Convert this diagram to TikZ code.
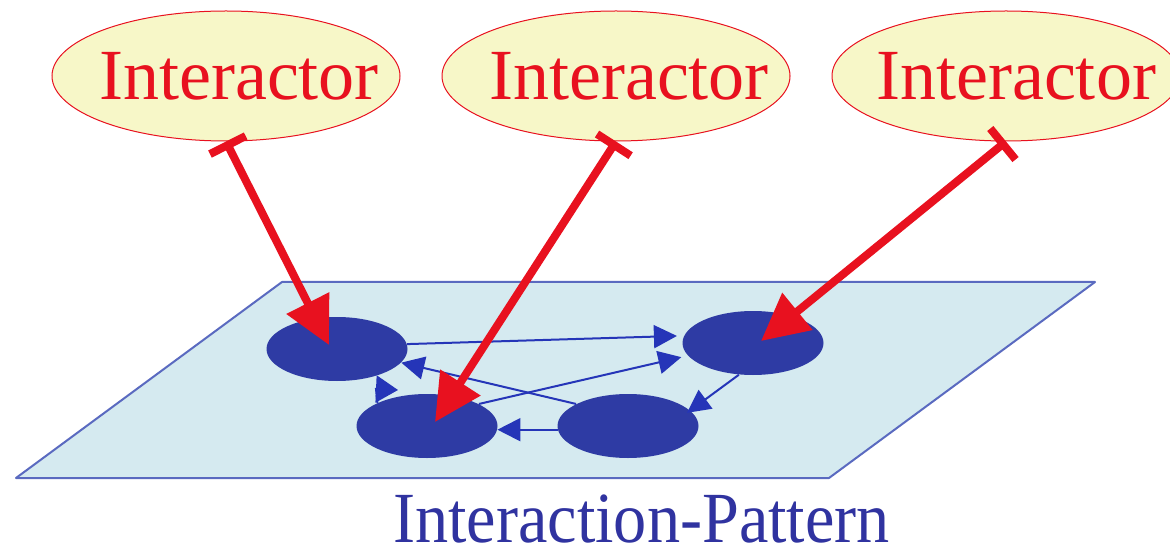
\documentclass[tikz,border=0pt]{standalone}
\usepackage{fontspec}
\setmainfont{Liberation Serif}
\usetikzlibrary{arrows.meta,shapes.geometric}

\definecolor{actorfill}{HTML}{F7F7C8}
\definecolor{actorred}{HTML}{E8111F}
\definecolor{planefill}{HTML}{D5EAF0}
\definecolor{planeline}{HTML}{5A6AC0}
\definecolor{rolefill}{HTML}{2E3BA4}
\definecolor{flowblue}{HTML}{2535B8}
\definecolor{titleblue}{HTML}{3033A0}

\tikzset{
  actor/.style={ellipse, draw=actorred, line width=0.5pt, fill=actorfill,
    minimum width=174pt, minimum height=65pt, inner sep=0pt},
  actortext/.style={text=actorred, font=\fontsize{36}{40}\selectfont, inner sep=0pt},
  role/.style={ellipse, fill=rolefill, minimum width=70.5pt, minimum height=32pt, inner sep=0pt},
  flow/.style={draw=flowblue, line width=1pt, -{Triangle[length=11.5pt,width=11.5pt]}},
  binding/.style={draw=actorred, line width=4pt,
    {Bar[width=20pt]}-{Triangle[length=23.5pt,width=23pt]}},
  plane/.style={fill=planefill, draw=planeline, line width=1pt, line join=round},
}

\begin{document}
\begin{tikzpicture}[x=0.5pt, y=-0.5pt]
  \clip (0,0) rectangle (1170,550);

  % pattern plane
  \draw[plane] (282,282) -- (1095,282) -- (829,478) -- (16,478) -- cycle;

  % roles inside the pattern
  \node[role] (A) at (337,349) {};
  \node[role] (B) at (427,426) {};
  \node[role] (C) at (628,426) {};
  \node[role] (D) at (753,343) {};

  % interactions between roles
  \draw[flow, shorten >=3.5pt] (A.4) -- (D.174);
  \draw[flow, shorten >=3.3pt] (B.23) -- (D.191);
  \draw[flow] (C.157) -- (A.-12);
  \draw[flow] (C.183) -- (B.-3);
  \draw[flow, shorten >=-2pt] (D.246) -- (C.14.7);
  \coordinate (ba) at (376,389);
  \coordinate (bt) at (398,390);
  \draw[draw=flowblue, line width=1pt, -{Triangle[length=11pt,width=13.5pt]}]
    (B.155) -- (ba) -- (bt);

  % interactors
  \node[actor] (I1) at (226,76) {};
  \node[actor] (I2) at (616,76) {};
  \node[actor] (I3) at (1006,76) {};
  \node[actortext] (T1) at ([xshift=6.5pt]I1.center) {Interactor};
  \node[actortext] (T2) at ([xshift=6.5pt]I2.center) {Interactor};
  \node[actortext] (T3) at ([xshift=5pt]I3.center) {Interactor};

  % bindings of interactors to roles
  \draw[binding] (I1.south) -- ([xshift=-4pt,yshift=2pt]A.center);
  \draw[binding] (I2.south) -- ([xshift=4pt,yshift=2pt]B.center);
  \draw[binding] (I3.south) -- ([xshift=4pt,yshift=1pt]D.center);

  % caption
  \node[anchor=base, text=titleblue, inner sep=0pt, xscale=0.92,
    font=\fontsize{36}{40}\selectfont] (cap) at (641.5,542) {Interaction-Pattern};
\end{tikzpicture}
\end{document}
